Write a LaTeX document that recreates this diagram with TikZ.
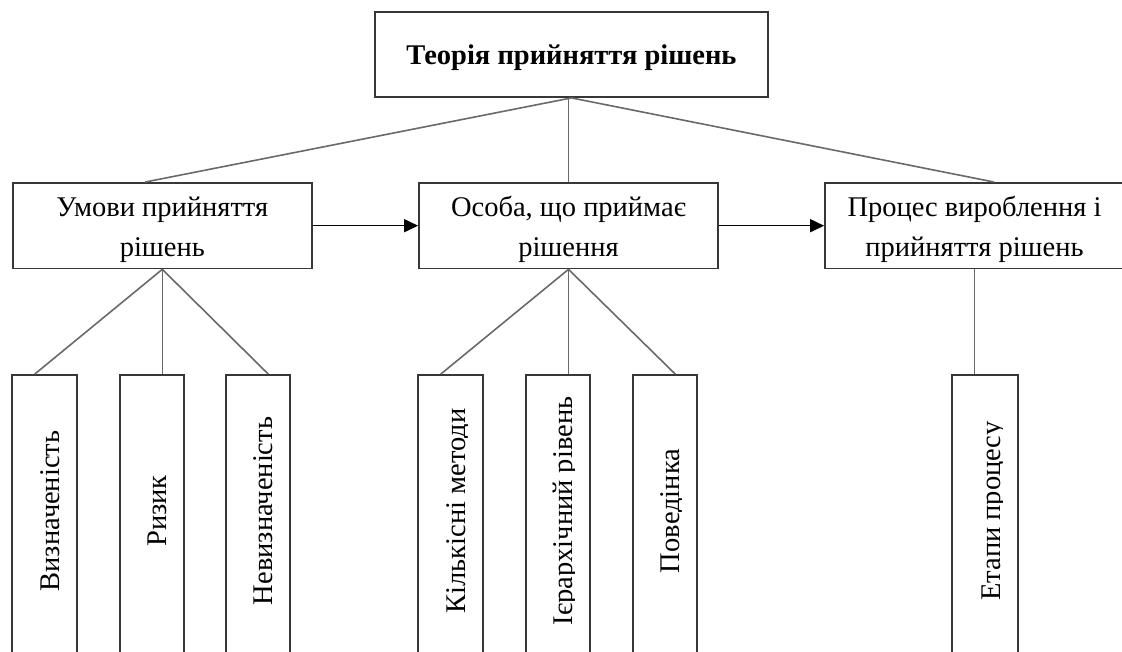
\documentclass[tikz,border=0pt]{standalone}
\usepackage{fontspec}
\setmainfont{Liberation Serif}
\usetikzlibrary{arrows.meta,calc}
\definecolor{boxgray}{RGB}{55,55,55}
\definecolor{linkgray}{RGB}{105,105,105}
\newcommand\vlabelbox[2]{%
  \begin{scope}
    \clip (#1.north west) rectangle ([xshift=-16pt]#1.south east);
    \node[vlabel] (#1t) at ($(#1.east)+(-18,-11.5)$) {#2};
  \end{scope}}
\begin{document}
\begin{tikzpicture}[x=1pt,y=-1pt,
  box/.style={draw=boxgray, line width=1.8pt, inner sep=0pt},
  boxtext/.style={inner sep=0pt, align=center, font=\fontsize{28.5}{40}\selectfont},
  vbox/.style={draw=boxgray, line width=1.8pt, inner sep=0pt, minimum height=295pt},
  link/.style={draw=linkgray, line width=1.6pt},
  flow/.style={draw=black, line width=1.6pt, -{Triangle[length=14pt,width=13pt]}},
  vlabel/.style={rotate=90, anchor=base, inner sep=0pt, font=\fontsize{28.5}{32}\selectfont}]
\useasboundingbox (0,0) rectangle (1122,652);

\node[box, minimum width=393pt, minimum height=85pt] (top) at (571.5,54.5) {};
\node[boxtext, font=\fontsize{28.5}{40}\selectfont\bfseries] (topt) at ($(top.center)+(0,3)$) {Теорія прийняття рішень};

\node[box, minimum width=299pt, minimum height=85.5pt] (A) at (162.3,225.7) {};
\node[box, minimum width=299pt, minimum height=85.5pt] (B) at (568.5,225.7) {};
\node[box, minimum width=299pt, minimum height=85.5pt] (C) at (974.5,225.7) {};
\node[boxtext] (At) at ($(A.center)+(0,4)$) {Умови прийняття\\рішень};
\node[boxtext] (Bt) at ($(B.center)+(0,4)$) {Особа, що приймає\\рішення};
\node[boxtext] (Ct) at ($(C.center)+(0,4)$) {Процес вироблення і\\прийняття рішень};

\node[vbox, minimum width=65pt] (v1) at (44.5,522.5) {};
\node[vbox, minimum width=64pt] (v2) at (152,522.5) {};
\node[vbox, minimum width=64pt] (v3) at (258,522.5) {};
\node[vbox, minimum width=65pt] (v4) at (450.5,522.5) {};
\node[vbox, minimum width=64pt] (v5) at (558,522.5) {};
\node[vbox, minimum width=64pt] (v6) at (665,522.5) {};
\node[vbox, minimum width=66pt] (v7) at (985,522.5) {};

\vlabelbox{v1}{Визначеність}
\vlabelbox{v2}{Ризик}
\vlabelbox{v3}{Невизначеність}
\vlabelbox{v4}{Кількісні методи}
\vlabelbox{v5}{Ієрархічний рівень}
\vlabelbox{v6}{Поведінка}
\vlabelbox{v7}{Етапи процесу}

% connectors from the title
\draw[link] (top.south) -- ($(A.north west)!0.443!(A.north east)$);
\draw[link] (B.north |- top.south) -- (B.north);
\draw[link] (top.south) -- ($(C.north west)!0.565!(C.north east)$);

% arrows between the middle boxes
\draw[flow] (A.east) -- (B.west);
\draw[flow] (B.east) -- (C.west);

% connectors to the vertical boxes
\draw[link] (A.south) -- ($(v1.north west)!0.354!(v1.north east)$);
\draw[link] (A.south) -- (v2.north -| A.south);
\draw[link] (A.south) -- ($(v3.north west)!0.656!(v3.north east)$);
\draw[link] (B.south) -- ($(v4.north west)!0.354!(v4.north east)$);
\draw[link] (B.south) -- (v5.north -| B.south);
\draw[link] (B.south) -- ($(v6.north west)!0.656!(v6.north east)$);
\draw[link] (C.south) -- (v7.north -| C.south);
\end{tikzpicture}
\end{document}
